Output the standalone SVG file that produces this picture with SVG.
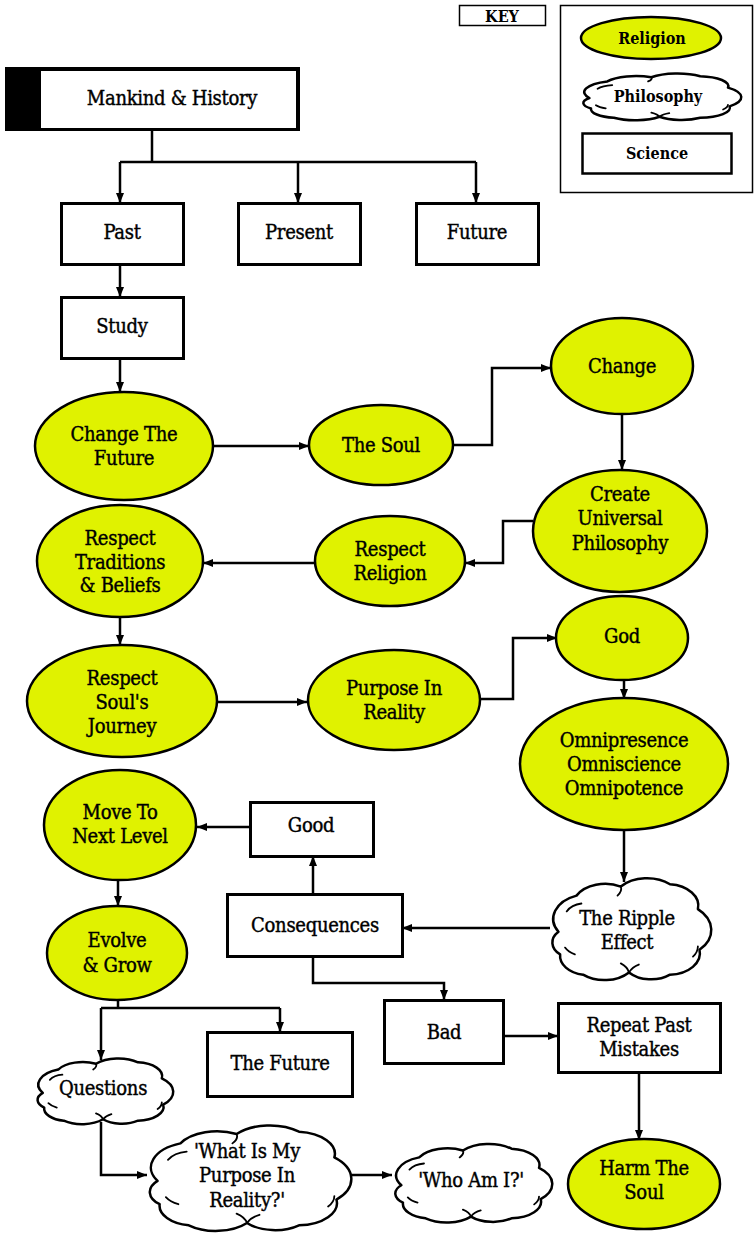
<svg xmlns="http://www.w3.org/2000/svg" xmlns:xlink="http://www.w3.org/1999/xlink" width="754" height="1234" viewBox="0 0 754 1234">
<style>
text{font-family:'DejaVu Serif Condensed','DejaVu Serif',serif;font-stretch:condensed;font-size:20px;text-anchor:middle;dominant-baseline:central;fill:#000;stroke:#000;stroke-width:0.4px;letter-spacing:-0.3px}
.key{font-weight:bold;font-size:16px;letter-spacing:0;stroke-width:0}
.box{fill:#fff;stroke:#000;stroke-width:3}
.rel{fill:#e0f200;stroke:#000;stroke-width:2.5}
.cl{fill:#fff;stroke:#000;stroke-width:2.5;vector-effect:non-scaling-stroke;stroke-linejoin:round}
.tk{fill:none;stroke:#000;stroke-width:1.8;vector-effect:non-scaling-stroke;stroke-linecap:round}
.ln{fill:none;stroke:#000;stroke-width:2.5}
.ar{marker-end:url(#ah)}
</style>
<defs>
<marker id="ah" viewBox="0 0 10 8" refX="10" refY="4" markerWidth="10" markerHeight="8" markerUnits="userSpaceOnUse" orient="auto">
<path d="M0,0 L10,4 L0,8 z" fill="#000"/>
</marker>
<g id="cloud">
<path class="cl" d="M7,52 A22,22 0 0 1 18,20 A20,20 0 0 1 45,12 A21,21 0 0 1 75,10 A19,19 0 0 1 92,32 A25,25 0 0 1 93,68 A19,19 0 0 1 75,90 A18,18 0 0 1 50,88 A20,20 0 0 1 22,90 A17,17 0 0 1 8,72 A14,14 0 0 1 7,52 Z"/>
<path class="tk" d="M45,12 q1,4 -2,8 M12,34 q3,-6 9,-7 M89,74 q3,-4 3,-9 M50,88 q-1,-5 -5,-8 M50,88 q2,-5 6,-7 M11,66 q2,4 6,6"/>
</g>
</defs>

<g id="connectors">
<path class="ln" d="M152,131 V162 M120,162 H476"/>
<path class="ln ar" d="M120,162 V203"/>
<path class="ln ar" d="M298,162 V203"/>
<path class="ln ar" d="M476,162 V203"/>
<path class="ln ar" d="M120,265 V297"/>
<path class="ln ar" d="M120,358 V392"/>
<path class="ln ar" d="M213,446 H309"/>
<path class="ln ar" d="M453,445 H492 V368 H551"/>
<path class="ln ar" d="M622,414 V470"/>
<path class="ln ar" d="M533,521 H503 V563 H465"/>
<path class="ln ar" d="M315,563 H203"/>
<path class="ln ar" d="M120,617 V645"/>
<path class="ln ar" d="M217,702 H307"/>
<path class="ln ar" d="M478,699 H513 V638 H557"/>
<path class="ln ar" d="M624,680 V699"/>
<path class="ln ar" d="M624,830 V882"/>
<path class="ln ar" d="M550,928 H402"/>
<path class="ln ar" d="M313,894 V856"/>
<path class="ln ar" d="M250,827 H197"/>
<path class="ln ar" d="M118,880 V906"/>
<path class="ln ar" d="M313,957 V983 H444 V1000"/>
<path class="ln ar" d="M503,1036 H558"/>
<path class="ln ar" d="M639,1072 V1140"/>
<path class="ln" d="M118,1000 V1008 M101,1008 H280"/>
<path class="ln ar" d="M101,1008 V1060"/>
<path class="ln ar" d="M280,1008 V1032"/>
<path class="ln ar" d="M101,1122 V1175 H147"/>
<path class="ln ar" d="M351,1175 H392"/>
</g>

<g id="key">
<rect x="459.5" y="5.5" width="86" height="20" fill="#fff" stroke="#000" stroke-width="1.5"/>
<text class="key" x="502" y="16">KEY</text>
<rect x="560.5" y="5.5" width="192" height="187" fill="#fff" stroke="#000" stroke-width="1.5"/>
<ellipse class="rel" cx="651" cy="38" rx="70" ry="21"/>
<text class="key" x="652" y="38">Religion</text>
<use xlink:href="#cloud" transform="translate(578,71) scale(1.63,0.52)"/>
<text class="key" x="658" y="96">Philosophy</text>
<rect x="582.5" y="133.5" width="149" height="40" fill="#fff" stroke="#000" stroke-width="2.5"/>
<text class="key" x="657" y="153">Science</text>
</g>

<g id="mankind">
<rect x="5" y="67" width="295" height="64" fill="#000"/>
<rect x="41" y="71" width="255" height="57" fill="#fff"/>
<text x="172" y="98">Mankind &amp; History</text>
</g>
<g id="past"><rect class="box" x="61.5" y="203.5" width="122" height="61"/><text x="122" y="232">Past</text></g>
<g id="present"><rect class="box" x="238.5" y="203.5" width="122" height="61"/><text x="299" y="232">Present</text></g>
<g id="future"><rect class="box" x="416.5" y="203.5" width="122" height="61"/><text x="477" y="232">Future</text></g>
<g id="study"><rect class="box" x="61.5" y="297.5" width="122" height="61"/><text x="122" y="326">Study</text></g>

<g id="change-the-future"><ellipse class="rel" cx="124" cy="446" rx="89" ry="54"/><text x="124" y="434">Change The</text><text x="124" y="458">Future</text></g>
<g id="the-soul"><ellipse class="rel" cx="381" cy="445" rx="72" ry="40"/><text x="381" y="445">The Soul</text></g>
<g id="change"><ellipse class="rel" cx="622" cy="366" rx="71" ry="48"/><text x="622" y="366">Change</text></g>
<g id="create"><ellipse class="rel" cx="620" cy="531" rx="87" ry="61"/><text x="620" y="494">Create</text><text x="620" y="518">Universal</text><text x="620" y="543">Philosophy</text></g>
<g id="respect-religion"><ellipse class="rel" cx="390" cy="561" rx="75" ry="45"/><text x="390" y="549">Respect</text><text x="390" y="573">Religion</text></g>
<g id="respect-traditions"><ellipse class="rel" cx="120" cy="561" rx="83" ry="56"/><text x="120" y="538">Respect</text><text x="120" y="562">Traditions</text><text x="120" y="585">&amp; Beliefs</text></g>
<g id="respect-journey"><ellipse class="rel" cx="122" cy="701" rx="95" ry="56"/><text x="122" y="678">Respect</text><text x="122" y="702">Soul's</text><text x="122" y="726">Journey</text></g>
<g id="purpose"><ellipse class="rel" cx="394" cy="700" rx="86" ry="50"/><text x="394" y="688">Purpose In</text><text x="394" y="712">Reality</text></g>
<g id="god"><ellipse class="rel" cx="622" cy="638" rx="66" ry="42"/><text x="622" y="636">God</text></g>
<g id="omni"><ellipse class="rel" cx="624" cy="764" rx="104" ry="66"/><text x="624" y="740">Omnipresence</text><text x="624" y="764">Omniscience</text><text x="624" y="788">Omnipotence</text></g>
<g id="ripple"><use xlink:href="#cloud" transform="translate(547,873) scale(1.64,1.13)"/><text x="627" y="918">The Ripple</text><text x="627" y="942">Effect</text></g>
<g id="consequences"><rect class="box" x="227.5" y="894.5" width="175" height="62"/><text x="315" y="925">Consequences</text></g>
<g id="good"><rect class="box" x="250.5" y="802.5" width="123" height="54"/><text x="311" y="825">Good</text></g>
<g id="move"><ellipse class="rel" cx="120" cy="825" rx="76" ry="55"/><text x="120" y="812">Move To</text><text x="120" y="836">Next Level</text></g>
<g id="evolve"><ellipse class="rel" cx="117" cy="953" rx="70" ry="47"/><text x="117" y="940">Evolve</text><text x="117" y="965">&amp; Grow</text></g>
<g id="bad"><rect class="box" x="384.5" y="1000.5" width="119" height="63"/><text x="444" y="1032">Bad</text></g>
<g id="repeat"><rect class="box" x="558.5" y="1003.5" width="162" height="69"/><text x="639" y="1025">Repeat Past</text><text x="639" y="1049">Mistakes</text></g>
<g id="harm"><ellipse class="rel" cx="644" cy="1184" rx="76" ry="45"/><text x="644" y="1168">Harm The</text><text x="644" y="1192">Soul</text></g>
<g id="the-future"><rect class="box" x="207.5" y="1032.5" width="145" height="64"/><text x="280" y="1063">The Future</text></g>
<g id="questions"><use xlink:href="#cloud" transform="translate(33,1055) scale(1.40,0.73)"/><text x="103" y="1088">Questions</text></g>
<g id="what-is"><use xlink:href="#cloud" transform="translate(143,1120) scale(2.08,1.17)"/><text x="247" y="1151">'What Is My</text><text x="247" y="1175">Purpose In</text><text x="247" y="1200">Reality?'</text></g>
<g id="who-am-i"><use xlink:href="#cloud" transform="translate(390,1140) scale(1.62,0.87)"/><text x="471" y="1180">'Who Am I?'</text></g>
</svg>
